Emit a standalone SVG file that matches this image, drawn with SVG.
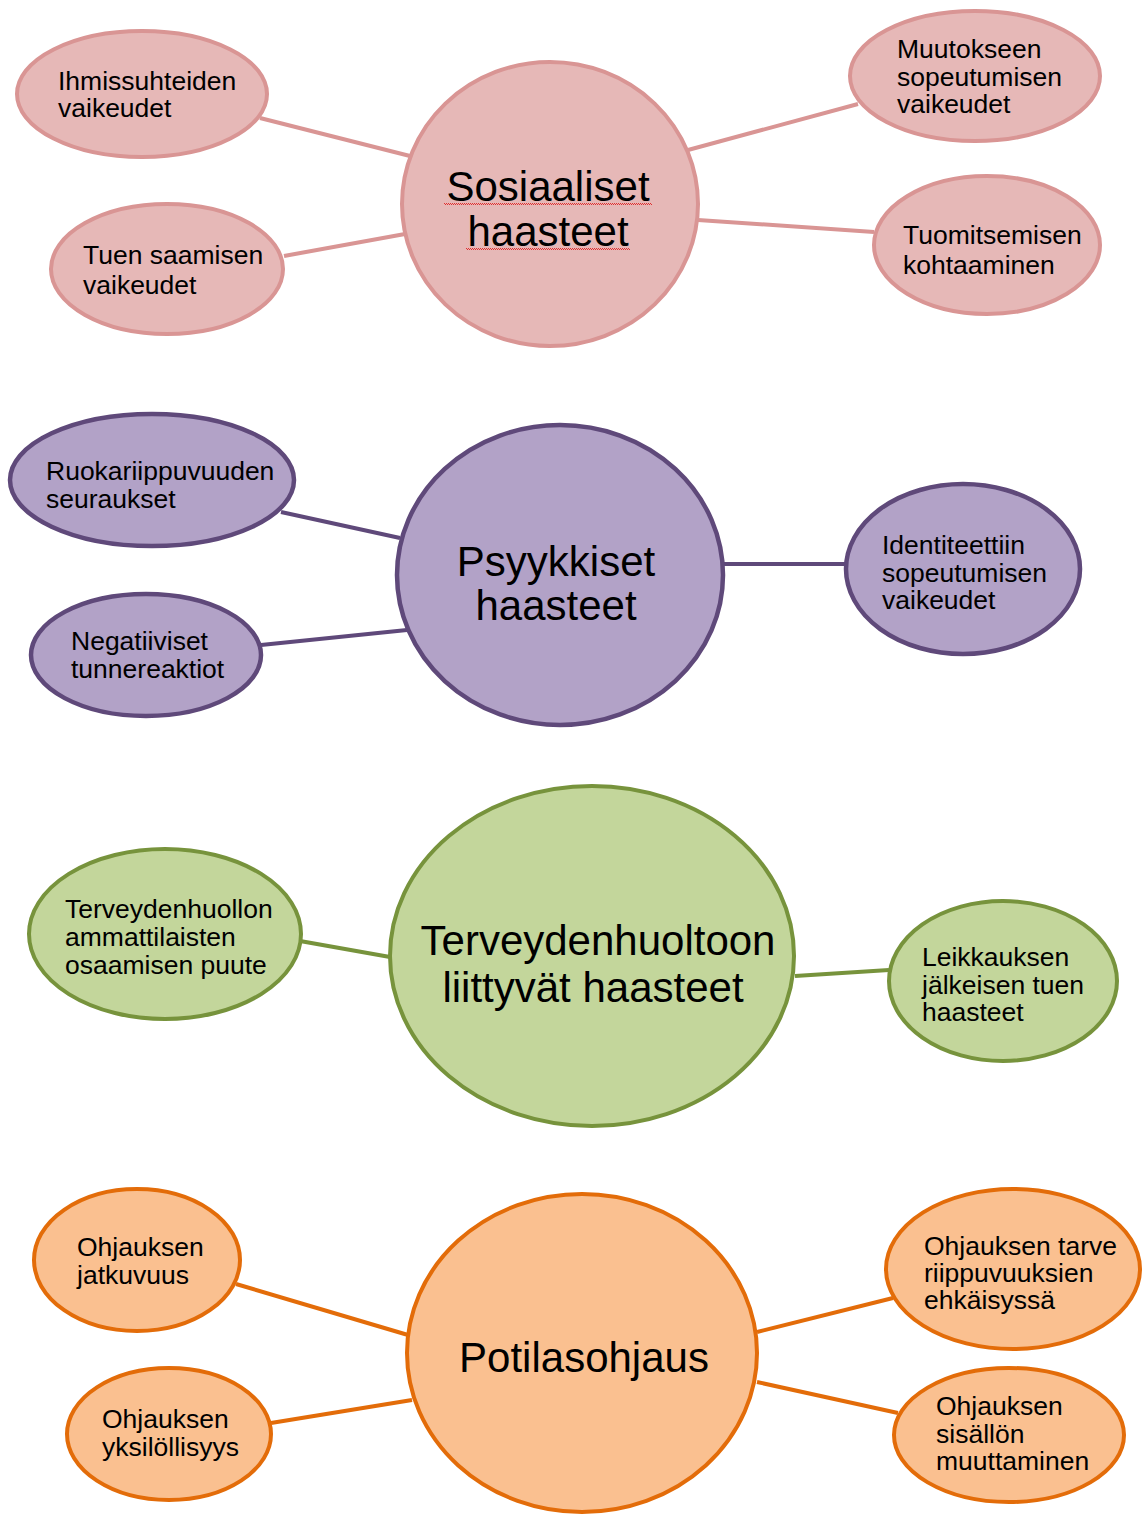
<svg xmlns="http://www.w3.org/2000/svg" width="1146" height="1514" viewBox="0 0 1146 1514">
  <style>
    text { font-family: "Liberation Sans", Arial, sans-serif; fill: #000; }
    .big { font-size: 42px; text-anchor: middle; }
    .small { font-size: 26.5px; }
    .pink { fill: #E6B8B7; stroke: #D99594; stroke-width: 4; }
    .purple { fill: #B2A2C7; stroke: #5F497A; stroke-width: 4.5; }
    .green { fill: #C3D69B; stroke: #77933C; stroke-width: 4; }
    .orange { fill: #FAC090; stroke: #E36C09; stroke-width: 4; }
    .l-pink { stroke: #D99594; stroke-width: 4; }
    .l-purple { stroke: #5F497A; stroke-width: 4; }
    .l-green { stroke: #77933C; stroke-width: 4; }
    .l-orange { stroke: #E36C09; stroke-width: 4; }
    .spell { stroke: #E03030; stroke-width: 1; stroke-dasharray: 1 1; }
  </style>

  <!-- connectors -->
  <g id="connectors" fill="none">
    <line class="l-pink" x1="260" y1="118" x2="410" y2="156"/>
    <line class="l-pink" x1="284" y1="256" x2="405" y2="234"/>
    <line class="l-pink" x1="858" y1="104" x2="688" y2="150"/>
    <line class="l-pink" x1="698" y1="220" x2="874" y2="232"/>

    <line class="l-purple" x1="281" y1="512" x2="400" y2="538"/>
    <line class="l-purple" x1="261" y1="645" x2="407" y2="630"/>
    <line class="l-purple" x1="724" y1="564" x2="846" y2="564"/>

    <line class="l-green" x1="300" y1="941" x2="390" y2="957"/>
    <line class="l-green" x1="795" y1="976" x2="889" y2="970"/>

    <line class="l-orange" x1="236" y1="1284" x2="408" y2="1335"/>
    <line class="l-orange" x1="271" y1="1423" x2="412" y2="1400"/>
    <line class="l-orange" x1="757" y1="1332" x2="893" y2="1298"/>
    <line class="l-orange" x1="757" y1="1382" x2="898" y2="1413"/>
  </g>

  <!-- social challenges -->
  <g id="sosiaaliset">
    <ellipse class="pink" cx="550" cy="204" rx="148" ry="142"/>
    <text class="big" x="548" y="201">Sosiaaliset</text>
    <text class="big" x="548" y="246">haasteet</text>
    <line class="spell" x1="444" y1="203.5" x2="652" y2="203.5"/>
    <line class="spell" x1="445" y1="204.5" x2="652" y2="204.5"/>
    <line class="spell" x1="466" y1="248.5" x2="630" y2="248.5"/>
    <line class="spell" x1="467" y1="249.5" x2="630" y2="249.5"/>
  </g>
  <g id="ihmissuhteiden">
    <ellipse class="pink" cx="142" cy="94" rx="125" ry="63"/>
    <text class="small" x="58" y="90">Ihmissuhteiden</text>
    <text class="small" x="58" y="117">vaikeudet</text>
  </g>
  <g id="tuen-saamisen">
    <ellipse class="pink" cx="167" cy="269" rx="116" ry="65"/>
    <text class="small" x="83" y="264">Tuen saamisen</text>
    <text class="small" x="83" y="294">vaikeudet</text>
  </g>
  <g id="muutokseen">
    <ellipse class="pink" cx="975" cy="76" rx="125" ry="65"/>
    <text class="small" x="897" y="58">Muutokseen</text>
    <text class="small" x="897" y="86">sopeutumisen</text>
    <text class="small" x="897" y="113">vaikeudet</text>
  </g>
  <g id="tuomitsemisen">
    <ellipse class="pink" cx="987" cy="245" rx="113" ry="69"/>
    <text class="small" x="903" y="244">Tuomitsemisen</text>
    <text class="small" x="903" y="274">kohtaaminen</text>
  </g>

  <!-- psychological challenges -->
  <g id="psyykkiset">
    <ellipse class="purple" cx="560" cy="575" rx="163" ry="150"/>
    <text class="big" x="556" y="576">Psyykkiset</text>
    <text class="big" x="556" y="620">haasteet</text>
  </g>
  <g id="ruokariippuvuuden">
    <ellipse class="purple" cx="152" cy="480" rx="142" ry="66"/>
    <text class="small" x="46" y="480">Ruokariippuvuuden</text>
    <text class="small" x="46" y="508">seuraukset</text>
  </g>
  <g id="negatiiviset">
    <ellipse class="purple" cx="146" cy="655" rx="115" ry="61"/>
    <text class="small" x="71" y="650">Negatiiviset</text>
    <text class="small" x="71" y="678">tunnereaktiot</text>
  </g>
  <g id="identiteettiin">
    <ellipse class="purple" cx="963" cy="569" rx="117" ry="85"/>
    <text class="small" x="882" y="554">Identiteettiin</text>
    <text class="small" x="882" y="582">sopeutumisen</text>
    <text class="small" x="882" y="609">vaikeudet</text>
  </g>

  <!-- healthcare challenges -->
  <g id="terveydenhuoltoon">
    <ellipse class="green" cx="592" cy="956" rx="202" ry="170"/>
    <text class="big" x="598" y="955">Terveydenhuoltoon</text>
    <text class="big" x="593" y="1002">liittyvät haasteet</text>
  </g>
  <g id="terveydenhuollon">
    <ellipse class="green" cx="165" cy="934" rx="136" ry="85"/>
    <text class="small" x="65" y="918">Terveydenhuollon</text>
    <text class="small" x="65" y="946">ammattilaisten</text>
    <text class="small" x="65" y="974">osaamisen puute</text>
  </g>
  <g id="leikkauksen">
    <ellipse class="green" cx="1003" cy="981" rx="114" ry="80"/>
    <text class="small" x="922" y="966">Leikkauksen</text>
    <text class="small" x="922" y="994">jälkeisen tuen</text>
    <text class="small" x="922" y="1021">haasteet</text>
  </g>

  <!-- patient guidance -->
  <g id="potilasohjaus">
    <ellipse class="orange" cx="582" cy="1353" rx="175" ry="159"/>
    <text class="big" x="584" y="1372">Potilasohjaus</text>
  </g>
  <g id="jatkuvuus">
    <ellipse class="orange" cx="137" cy="1260" rx="103" ry="71"/>
    <text class="small" x="77" y="1256">Ohjauksen</text>
    <text class="small" x="77" y="1284">jatkuvuus</text>
  </g>
  <g id="yksilollisyys">
    <ellipse class="orange" cx="169" cy="1434" rx="102" ry="66"/>
    <text class="small" x="102" y="1428">Ohjauksen</text>
    <text class="small" x="102" y="1456">yksilöllisyys</text>
  </g>
  <g id="tarve">
    <ellipse class="orange" cx="1013" cy="1269" rx="127" ry="80"/>
    <text class="small" x="924" y="1255">Ohjauksen tarve</text>
    <text class="small" x="924" y="1282">riippuvuuksien</text>
    <text class="small" x="924" y="1309">ehkäisyssä</text>
  </g>
  <g id="sisallon">
    <ellipse class="orange" cx="1009" cy="1435" rx="115" ry="67"/>
    <text class="small" x="936" y="1415">Ohjauksen</text>
    <text class="small" x="936" y="1443">sisällön</text>
    <text class="small" x="936" y="1470">muuttaminen</text>
  </g>
</svg>
